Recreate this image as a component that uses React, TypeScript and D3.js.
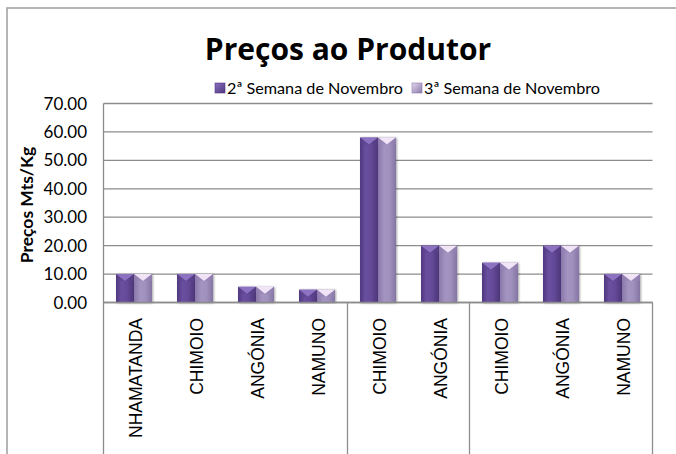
import React from 'react';
import * as d3 from 'd3';

const categories = ['NHAMATANDA', 'CHIMOIO', 'ANGÓNIA', 'NAMUNO', 'CHIMOIO', 'ANGÓNIA', 'CHIMOIO', 'ANGÓNIA', 'NAMUNO'];
const groupSizes = [4, 2, 3];
const seriesNames = ['2ª Semana de Novembro', '3ª Semana de Novembro'];
const week2 = [10, 10, 5.5, 4.5, 58, 20, 14, 20, 10];
const week3 = [10, 10, 5.5, 4.5, 58, 20, 14, 20, 10];
const yTicks = [0, 10, 20, 30, 40, 50, 60, 70];

const W = 676;
const H = 454;
const M = { left: 103.5, right: 652.5, top: 103.5, bottom: 302.5 };

const seriesStyle = [
  { grad: 'g-dark', cap: '#8d72c2', capEdge: '#5a418a', legend: 'lg-dark', lx: 215 },
  { grad: 'g-light', cap: '#f1e4f6', capEdge: '#9482b3', legend: 'lg-light', lx: 412 },
];

export default function App() {
  const x0 = d3.scaleBand<number>().domain(d3.range(categories.length)).range([M.left, M.right]).paddingInner(0).paddingOuter(0);
  const bw = x0.bandwidth();
  const x1 = d3.scaleBand<number>().domain([0, 1]).range([bw * 0.205, bw * 0.795]).padding(0);
  const y = d3.scaleLinear().domain([0, 70]).range([M.bottom, M.top]);
  const values = [week2, week3];

  const boundaries: number[] = [];
  let acc = 0;
  groupSizes.forEach((g) => {
    acc += g;
    boundaries.push(acc);
  });

  const labelFont = "'Liberation Sans', Arial, sans-serif";
  const calFont = "Lato, 'Open Sans', sans-serif";

  return (
    <svg width={W} height={H} style={{ position: 'absolute', left: 0, top: 0, background: '#fff' }}>
      <defs>
        <linearGradient id="g-dark" x1="0" x2="1" y1="0" y2="0">
          <stop offset="0" stopColor="#4f3880" />
          <stop offset="0.3" stopColor="#6a4f9f" />
          <stop offset="0.6" stopColor="#654a99" />
          <stop offset="1" stopColor="#4d3779" />
        </linearGradient>
        <linearGradient id="g-light" x1="0" x2="1" y1="0" y2="0">
          <stop offset="0" stopColor="#8877a8" />
          <stop offset="0.35" stopColor="#a494c2" />
          <stop offset="0.65" stopColor="#a090bd" />
          <stop offset="1" stopColor="#8474a3" />
        </linearGradient>
        <linearGradient id="lg-dark" x1="0" x2="1" y1="0" y2="1">
          <stop offset="0" stopColor="#8a6fc0" />
          <stop offset="1" stopColor="#4f3880" />
        </linearGradient>
        <linearGradient id="lg-light" x1="0" x2="1" y1="0" y2="1">
          <stop offset="0" stopColor="#e4d6ef" />
          <stop offset="1" stopColor="#8a7aab" />
        </linearGradient>
        <filter id="shadow" x="-30%" y="-10%" width="160%" height="120%">
          <feDropShadow dx="1" dy="0.5" stdDeviation="1" floodColor="#000" floodOpacity="0.35" />
        </filter>
      </defs>

      {/* outer chart frame */}
      <rect x={7} y={8} width={W + 20} height={H + 20} fill="#fff" stroke="#a3a3a3" strokeWidth={1.6} />

      {/* title */}
      <text x={348} y={60} textAnchor="middle" fontFamily="'Open Sans', Lato, sans-serif" fontWeight={700} fontSize={30} fill="#000">
        Preços ao Produtor
      </text>

      {/* legend */}
      {seriesNames.map((name, i) => {
        const lx = seriesStyle[i].lx;
        return (
          <g key={name}>
            <rect x={lx} y={83} width={10} height={10} fill={`url(#${seriesStyle[i].legend})`} stroke={i === 0 ? '#4f3880' : '#8a7aab'} strokeWidth={0.6} />
            <text x={lx + 12} y={93.5} fontFamily={calFont} fontSize={16.2} fill="#000">
              {name}
            </text>
          </g>
        );
      })}

      {/* gridlines */}
      {yTicks.map((t) => (
        <line key={t} x1={M.left} x2={M.right} y1={y(t)} y2={y(t)} stroke="#8c8c8c" strokeWidth={1.3} />
      ))}

      {/* y tick labels */}
      {yTicks.map((t) => (
        <text key={t} x={87} y={y(t)} dy="0.36em" textAnchor="end" fontFamily={calFont} fontSize={17} fill="#000">
          {t.toFixed(2)}
        </text>
      ))}

      {/* y axis title */}
      <text
        transform={`translate(33, ${(M.top + M.bottom) / 2 + 2}) rotate(-90)`}
        textAnchor="middle"
        fontFamily={calFont}
        fontWeight={700}
        fontSize={17.5}
        fill="#000"
      >
        Preços Mts/Kg
      </text>

      {/* bars */}
      {categories.map((c, ci) =>
        values.map((vals, si) => {
          const bx = (x0(ci) as number) + (x1(si) as number);
          const w = x1.bandwidth();
          const top = y(vals[ci]);
          const h = M.bottom - top;
          const capH = Math.min(7, h);
          return (
            <g key={`${ci}-${si}`} filter="url(#shadow)">
              <rect x={bx} y={top} width={w} height={h} fill={`url(#${seriesStyle[si].grad})`} />
              <polygon points={`${bx},${top} ${bx + w},${top} ${bx + w / 2},${top + capH}`} fill={seriesStyle[si].cap} />
              <polygon points={`${bx},${top} ${bx + w / 2},${top + capH} ${bx},${top + capH}`} fill={seriesStyle[si].capEdge} opacity={0.5} />
              <polygon points={`${bx + w},${top} ${bx + w / 2},${top + capH} ${bx + w},${top + capH}`} fill={seriesStyle[si].capEdge} opacity={0.5} />
            </g>
          );
        })
      )}

      {/* axis lines */}
      <line x1={M.left} x2={M.right} y1={M.bottom} y2={M.bottom} stroke="#8c8c8c" strokeWidth={1.3} />
      <line x1={M.left} x2={M.left} y1={M.top} y2={H} stroke="#8c8c8c" strokeWidth={1.3} />
      <line x1={M.right} x2={M.right} y1={M.bottom} y2={H} stroke="#8c8c8c" strokeWidth={1.3} />
      {boundaries.slice(0, -1).map((b) => (
        <line key={b} x1={x0(b)} x2={x0(b)} y1={M.bottom} y2={H} stroke="#8c8c8c" strokeWidth={1.3} />
      ))}

      {/* category labels */}
      {categories.map((c, ci) => (
        <text
          key={ci}
          transform={`translate(${(x0(ci) as number) + bw / 2 + 1.5}, 318) rotate(-90)`}
          dy="0.36em"
          textAnchor="end"
          fontFamily={labelFont}
          fontSize={17.5}
          fill="#000"
        >
          {c}
        </text>
      ))}
    </svg>
  );
}
